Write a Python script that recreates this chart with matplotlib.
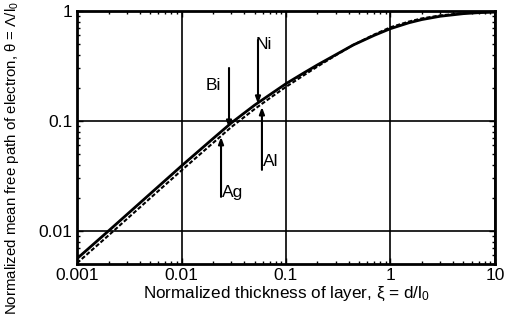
import matplotlib
matplotlib.use("Agg")
import matplotlib.pyplot as plt

plt.rcParams['font.family'] = ['Liberation Sans', 'DejaVu Sans']
plt.rcParams['mathtext.fontset'] = 'custom'
plt.rcParams['mathtext.rm'] = 'Liberation Sans'
plt.rcParams['mathtext.it'] = 'Liberation Sans'

# values
xi = [0.001, 0.002, 0.005, 0.01, 0.02, 0.03, 0.05, 0.07, 0.1, 0.15, 0.2, 0.3, 0.44,
      0.7, 1, 1.5, 2, 3, 5, 7, 10]
theta_solid = [0.0056, 0.0100, 0.0217, 0.039, 0.069, 0.096, 0.139, 0.173, 0.218, 0.275,
               0.323, 0.40, 0.49, 0.60, 0.69, 0.78, 0.835, 0.895, 0.945, 0.965, 0.975]
theta_dotted = [0.0051, 0.0091, 0.0198, 0.0355, 0.063, 0.088, 0.128, 0.161, 0.204, 0.262,
                0.312, 0.395, 0.49, 0.61, 0.71, 0.80, 0.855, 0.91, 0.955, 0.975, 0.985]

metals = ['Bi', 'Ni', 'Ag', 'Al']
metal_xi = [0.0285, 0.054, 0.0239, 0.0589]
arrow_tip = [0.0863, 0.143, 0.0716, 0.134]
arrow_tail = [0.303, 0.545, 0.0204, 0.0359]
label_pos = [(0.020, 0.21), (0.062, 0.50), (0.031, 0.0225), (0.072, 0.043)]

fig = plt.figure(figsize=(5.07, 3.22), dpi=100)
ax = fig.add_axes([0.152, 0.180, 0.824, 0.786])

ax.plot(xi, theta_solid, color='black', lw=2.0)
ax.plot(xi, theta_dotted, color='black', lw=1.5, linestyle=(0, (2, 1)))

for name, x, tip, tail, pos in zip(metals, metal_xi, arrow_tip, arrow_tail, label_pos):
    ax.annotate('', xy=(x, tip), xytext=(x, tail),
                arrowprops=dict(arrowstyle='-|>,head_length=0.4,head_width=0.15',
                                color='black', lw=1.5, shrinkA=0, shrinkB=0))
    ax.text(pos[0], pos[1], name, fontsize=12.5, ha='center', va='center')

ax.set_xscale('log')
ax.set_yscale('log')
ax.set_xlim(0.001, 10)
ax.set_ylim(0.005, 1)
ax.set_xticks([0.001, 0.01, 0.1, 1, 10])
ax.set_xticklabels(['0.001', '0.01', '0.1', '1', '10'])
ax.set_yticks([0.01, 0.1, 1])
ax.set_yticklabels(['0.01', '0.1', '1'])
ax.grid(True, which='major', color='black', lw=1.2)
ax.tick_params(which='both', direction='in', top=True, right=True, labelsize=12.5)
ax.tick_params(which='major', length=4, width=1)
ax.tick_params(which='minor', length=2.5, width=1)
ax.tick_params(axis='x', pad=3)
for s in ax.spines.values():
    s.set_linewidth(2)

ax.set_xlabel(r'Normalized thickness of layer, ξ = d/l$_0$', fontsize=12.3, labelpad=1)
ax.set_ylabel(r'Normalized mean free path of electron, θ = Λ/l$_0$', fontsize=10.8)
ax.yaxis.set_label_coords(-0.135, 0.42)

fig.savefig('out.png', dpi=100)
